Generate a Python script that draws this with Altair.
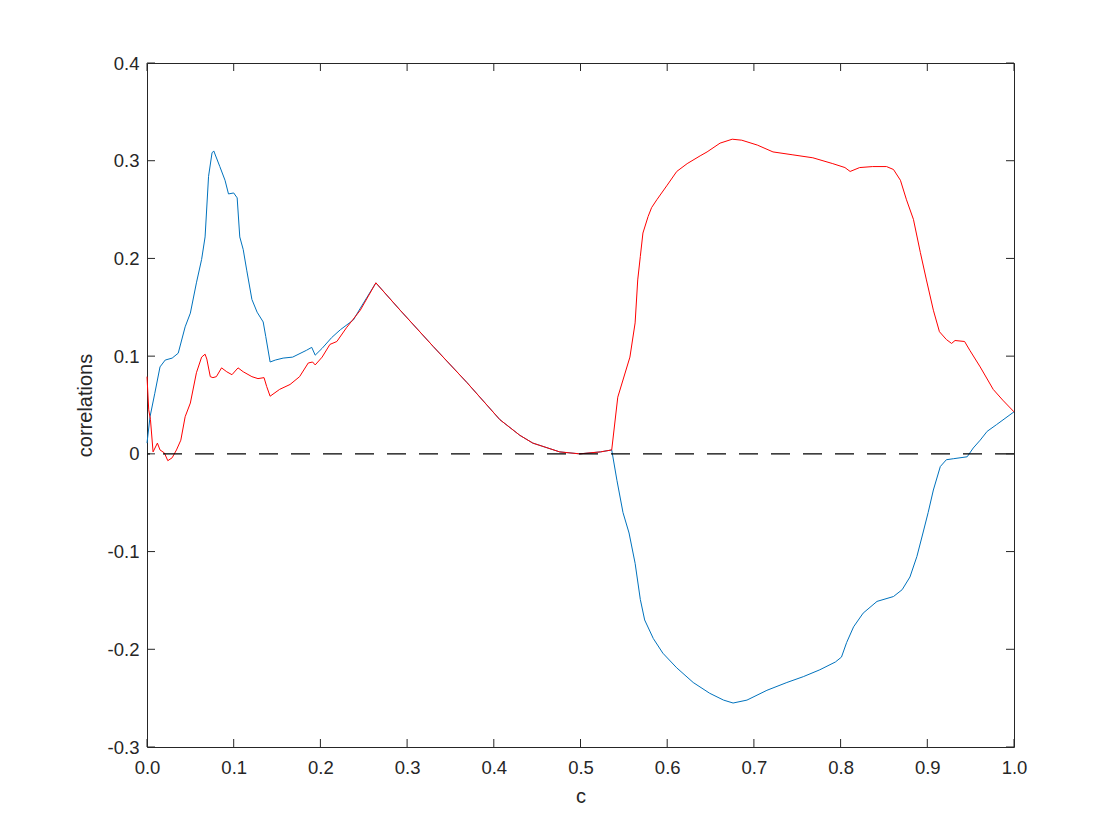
import altair as alt
import pandas as pd

# ---- data ----
# blue series
blue_c_a = [0, 0.0035, 0.009, 0.015, 0.021, 0.029, 0.036, 0.044, 0.050, 0.057,
            0.063, 0.067, 0.071, 0.075, 0.077, 0.084, 0.090, 0.094, 0.100, 0.104,
            0.107, 0.111, 0.115, 0.121, 0.127, 0.134, 0.137, 0.142, 0.148, 0.157,
            0.168, 0.184, 0.190, 0.194, 0.202, 0.213, 0.223, 0.238, 0.246, 0.264]
blue_v_a = [0.011, 0.038, 0.062, 0.089, 0.096, 0.098, 0.103, 0.130, 0.144, 0.175,
            0.199, 0.222, 0.284, 0.308, 0.310, 0.294, 0.280, 0.266, 0.267, 0.262,
            0.222, 0.209, 0.188, 0.158, 0.145, 0.135, 0.120, 0.094, 0.096, 0.098,
            0.099, 0.106, 0.109, 0.101, 0.108, 0.119, 0.127, 0.137, 0.149, 0.175]

# shared descent (both series coincide)
shared_c = [0.292, 0.330, 0.369, 0.407, 0.430, 0.445, 0.476, 0.499, 0.523, 0.536]
shared_v = [0.147, 0.110, 0.073, 0.035, 0.019, 0.011, 0.002, 0.0, 0.002, 0.004]

blue_c_b = [0.542, 0.549, 0.556, 0.563, 0.569, 0.574, 0.584, 0.595, 0.611, 0.630,
            0.649, 0.665, 0.676, 0.692, 0.715, 0.738, 0.757, 0.776, 0.794, 0.801,
            0.807, 0.815, 0.826, 0.842, 0.861, 0.871, 0.880, 0.888, 0.895, 0.901,
            0.907, 0.915, 0.922, 0.930, 0.946, 0.953, 0.961, 0.969, 0.980, 1.0]
blue_v_b = [-0.027, -0.060, -0.081, -0.112, -0.149, -0.170, -0.189, -0.204, -0.219, -0.234,
            -0.245, -0.252, -0.255, -0.252, -0.242, -0.234, -0.228, -0.221, -0.213, -0.208,
            -0.193, -0.177, -0.163, -0.151, -0.146, -0.139, -0.126, -0.105, -0.081, -0.060,
            -0.037, -0.013, -0.006, -0.005, -0.003, 0.006, 0.014, 0.023, 0.030, 0.043]

# red series
red_c_a = [0, 0.002, 0.004, 0.007, 0.012, 0.015, 0.020, 0.024, 0.029, 0.034,
           0.039, 0.044, 0.050, 0.057, 0.063, 0.067, 0.069, 0.073, 0.076, 0.080,
           0.086, 0.092, 0.098, 0.105, 0.111, 0.121, 0.128, 0.135, 0.138, 0.142,
           0.153, 0.165, 0.176, 0.186, 0.191, 0.194, 0.202, 0.211, 0.219, 0.230,
           0.246, 0.264]
red_v_a = [0.079, 0.045, 0.035, 0.002, 0.011, 0.004, 0.001, -0.007, -0.004, 0.004,
           0.014, 0.038, 0.052, 0.083, 0.099, 0.102, 0.097, 0.079, 0.078, 0.079,
           0.088, 0.084, 0.081, 0.088, 0.084, 0.079, 0.077, 0.078, 0.069, 0.059,
           0.066, 0.071, 0.079, 0.093, 0.094, 0.091, 0.099, 0.112, 0.115, 0.129,
           0.147, 0.175]
red_c_b = [0.543, 0.557, 0.563, 0.566, 0.569, 0.572, 0.578, 0.582, 0.588, 0.600,
           0.611, 0.623, 0.638, 0.646, 0.661, 0.675, 0.686, 0.704, 0.722, 0.745,
           0.768, 0.791, 0.805, 0.811, 0.822, 0.837, 0.853, 0.861, 0.869, 0.876,
           0.884, 0.892, 0.899, 0.907, 0.914, 0.922, 0.928, 0.932, 0.943, 0.949,
           0.961, 0.976, 0.987, 1.0]
red_v_b = [0.058, 0.099, 0.134, 0.178, 0.202, 0.226, 0.243, 0.252, 0.260, 0.275,
           0.289, 0.297, 0.305, 0.309, 0.318, 0.322, 0.321, 0.316, 0.309, 0.306,
           0.303, 0.297, 0.293, 0.289, 0.293, 0.294, 0.294, 0.291, 0.280, 0.260,
           0.240, 0.206, 0.178, 0.147, 0.125, 0.117, 0.113, 0.116, 0.115, 0.106,
           0.089, 0.066, 0.055, 0.043]

x_ticks = [0.0, 0.1, 0.2, 0.3, 0.4, 0.5, 0.6, 0.7, 0.8, 0.9, 1.0]
y_ticks = [-0.3, -0.2, -0.1, 0.0, 0.1, 0.2, 0.3, 0.4]

# ---- build ----
W, H = 867, 684
AX = "#262626"
FONT = "Liberation Sans"

blue_df = pd.DataFrame({"c": blue_c_a + shared_c + blue_c_b,
                        "v": blue_v_a + shared_v + blue_v_b})
red_df = pd.DataFrame({"c": red_c_a + shared_c + red_c_b,
                       "v": red_v_a + shared_v + red_v_b})

x_scale = alt.Scale(domain=[0, 1], nice=False, zero=False)
y_scale = alt.Scale(domain=[-0.3, 0.4], nice=False, zero=False)

x_axis = alt.Axis(values=x_ticks, format=".1f", title="c", ticks=False, tickSize=0,
                  domain=False, grid=False, labelFlush=False,
                  labelPadding=11, titlePadding=10)
y_axis = alt.Axis(values=y_ticks,
                  labelExpr="datum.value == 0 ? '0' : replace(format(datum.value, '.1f'), '\u2212', '-')",
                  title="correlations", ticks=False, tickSize=0, domain=False,
                  grid=False, labelFlush=False, labelPadding=8, titlePadding=12)


def X(field):
    return alt.X(field, type="quantitative", scale=x_scale, axis=x_axis)


def Y(field):
    return alt.Y(field, type="quantitative", scale=y_scale, axis=y_axis)


blue = alt.Chart(blue_df).mark_line(color="#0072BD", strokeWidth=1).encode(
    x=X("c"), y=Y("v"))
red = alt.Chart(red_df).mark_line(color="#FF0000", strokeWidth=1).encode(
    x=X("c"), y=Y("v"))

zero = alt.Chart(pd.DataFrame({"z": [0.0]})).mark_rule(
    color="#000000", strokeWidth=1.2, strokeDash=[19, 13]
).encode(y=Y("z"))

ytick_df = pd.DataFrame({"t": y_ticks})
xtick_df = pd.DataFrame({"t": x_ticks})
TL = 8
left_ticks = alt.Chart(ytick_df).mark_rule(color=AX, strokeWidth=1).encode(
    y=Y("t"), x=alt.value(0), x2=alt.value(TL))
right_ticks = alt.Chart(ytick_df).mark_rule(color=AX, strokeWidth=1).encode(
    y=Y("t"), x=alt.value(W - TL), x2=alt.value(W))
bottom_ticks = alt.Chart(xtick_df).mark_rule(color=AX, strokeWidth=1).encode(
    x=X("t"), y=alt.value(H - TL), y2=alt.value(H))
top_ticks = alt.Chart(xtick_df).mark_rule(color=AX, strokeWidth=1).encode(
    x=X("t"), y=alt.value(0), y2=alt.value(TL))

chart = alt.layer(
    blue, red, zero, left_ticks, right_ticks, bottom_ticks, top_ticks
).properties(
    width=W, height=H,
    autosize=alt.AutoSizeParams(type="none"),
    padding={"left": 139, "top": 55, "right": 98, "bottom": 85},
    background="white",
).configure_view(
    stroke=AX, strokeWidth=1
).configure_axis(
    labelFont=FONT, labelFontSize=18.5, labelColor=AX,
    titleFont=FONT, titleFontSize=20, titleFontWeight="normal", titleColor=AX,
)

chart.save("out.html", embed_options={"renderer": "svg", "actions": False})
